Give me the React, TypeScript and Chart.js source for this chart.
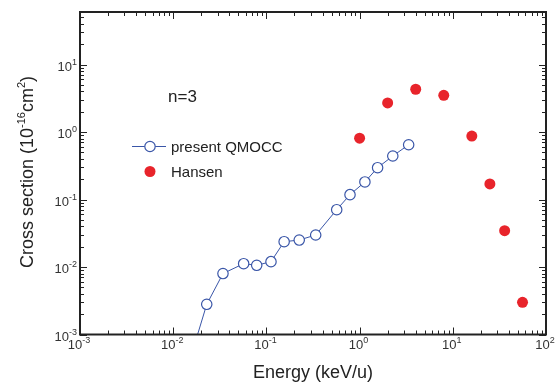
import React, { useEffect, useRef } from 'react';
import { Chart, registerables } from 'chart.js';

Chart.register(...registerables);

// Present QMOCC results (energy keV/u, cross section 1e-16 cm^2)
const qmoccEnergy = [0.0157, 0.0229, 0.0342, 0.057, 0.0787, 0.112, 0.155, 0.225, 0.338, 0.568, 0.789, 1.14, 1.56, 2.27, 3.36];
const qmoccSigma = [0.0005, 0.0028, 0.008, 0.0112, 0.0106, 0.012, 0.0237, 0.0251, 0.0298, 0.0706, 0.118, 0.182, 0.296, 0.441, 0.648];

// Hansen data
const hansenEnergy = [1.0, 2.0, 4.0, 8.0, 16, 25, 36, 56];
const hansenSigma = [0.81, 2.7, 4.3, 3.5, 0.87, 0.17, 0.0345, 0.003];

// Tick label exponents (labels are 10^e)
const xTickExponents = [-3, -2, -1, 0, 1, 2];
const yTickExponents = [-3, -2, -1, 0, 1];

const X_MIN = 1e-3;
const X_MAX = 100;
const Y_MIN = 1e-3;
const Y_MAX = 60;

const FONT = '"Liberation Sans", Arial, sans-serif';
const BLUE = '#3a56a8';
const RED = '#e8242b';
const INK = '#222222';

function drawPow(ctx: CanvasRenderingContext2D, x: number, y: number, exp: number, align: 'center' | 'right') {
  ctx.font = `13px ${FONT}`;
  const base = '10';
  const wb = ctx.measureText(base).width;
  ctx.font = `9px ${FONT}`;
  const sup = String(exp);
  const ws = ctx.measureText(sup).width;
  const total = wb + ws;
  let x0 = align === 'center' ? x - total / 2 : x - total;
  ctx.textAlign = 'left';
  ctx.textBaseline = 'alphabetic';
  ctx.font = `13px ${FONT}`;
  ctx.fillText(base, x0, y);
  ctx.font = `9px ${FONT}`;
  ctx.fillText(sup, x0 + wb, y - 6);
}

const framePlugin = {
  id: 'framePlugin',
  afterDatasetsDraw(chart: any) {
    const { ctx, chartArea } = chart;
    const xs = chart.scales.x;
    const ys = chart.scales.y;
    const { left, right, top, bottom } = chartArea;
    ctx.save();
    ctx.strokeStyle = INK;
    ctx.fillStyle = INK;

    // ticks
    ctx.lineWidth = 1;
    const majorLen = 7;
    const minorLen = 4;
    for (let e = -3; e <= 2; e++) {
      for (let k = 1; k <= 9; k++) {
        const v = k * Math.pow(10, e);
        const len = k === 1 ? majorLen : minorLen;
        if (v >= X_MIN * 0.999 && v <= X_MAX * 1.001) {
          const px = Math.round(xs.getPixelForValue(v)) + 0.5;
          ctx.beginPath();
          ctx.moveTo(px, bottom);
          ctx.lineTo(px, bottom - len);
          ctx.moveTo(px, top);
          ctx.lineTo(px, top + len);
          ctx.stroke();
        }
        if (v >= Y_MIN * 0.999 && v <= Y_MAX * 1.001) {
          const py = Math.round(ys.getPixelForValue(v)) + 0.5;
          ctx.beginPath();
          ctx.moveTo(left, py);
          ctx.lineTo(left + len, py);
          ctx.moveTo(right, py);
          ctx.lineTo(right - len, py);
          ctx.stroke();
        }
      }
    }

    // frame
    ctx.lineWidth = 2;
    ctx.strokeRect(left, top, right - left, bottom - top);

    // tick labels
    ctx.fillStyle = '#333333';
    xTickExponents.forEach((e) => {
      const px = xs.getPixelForValue(Math.pow(10, e));
      drawPow(ctx, px - 1, bottom + 14, e, 'center');
    });
    yTickExponents.forEach((e) => {
      const py = ys.getPixelForValue(Math.pow(10, e));
      drawPow(ctx, left - 3, py + 6, e, 'right');
    });

    // x title
    ctx.fillStyle = INK;
    ctx.font = `18px ${FONT}`;
    ctx.textAlign = 'center';
    ctx.textBaseline = 'alphabetic';
    ctx.fillText('Energy (keV/u)', (left + right) / 2, 378);

    // y title with superscripts
    const parts: Array<[string, boolean]> = [
      ['Cross section (10', false],
      ['-16', true],
      ['cm', false],
      ['2', true],
      [')', false],
    ];
    let total = 0;
    const widths: number[] = [];
    parts.forEach(([t, s]) => {
      ctx.font = s ? `11px ${FONT}` : `18px ${FONT}`;
      const w = ctx.measureText(t).width;
      widths.push(w);
      total += w;
    });
    ctx.save();
    ctx.translate(33, 172);
    ctx.rotate(-Math.PI / 2);
    ctx.textAlign = 'left';
    let cx = -total / 2;
    parts.forEach(([t, s], i) => {
      ctx.font = s ? `11px ${FONT}` : `18px ${FONT}`;
      ctx.fillText(t, cx, s ? -8 : 0);
      cx += widths[i];
    });
    ctx.restore();

    // annotation
    ctx.font = `17px ${FONT}`;
    ctx.textAlign = 'left';
    ctx.fillText('n=3', xs.getPixelForValue(0.0088), ys.getPixelForValue(2.75));

    // legend
    const ds = chart.data.datasets;
    const lx = 150;
    const ly1 = 146.5;
    const ly2 = 171.5;
    ctx.strokeStyle = BLUE;
    ctx.lineWidth = 1;
    ctx.beginPath();
    ctx.moveTo(132, ly1);
    ctx.lineTo(166, ly1);
    ctx.stroke();
    ctx.fillStyle = '#ffffff';
    ctx.lineWidth = 1.2;
    ctx.beginPath();
    ctx.arc(lx, ly1, 5.2, 0, Math.PI * 2);
    ctx.fill();
    ctx.stroke();
    ctx.fillStyle = RED;
    ctx.beginPath();
    ctx.arc(lx, ly2, 5.5, 0, Math.PI * 2);
    ctx.fill();
    ctx.fillStyle = INK;
    ctx.font = `15px ${FONT}`;
    ctx.textBaseline = 'middle';
    ctx.fillText(ds[0].label, 171, ly1 + 1);
    ctx.fillText(ds[1].label, 171, ly2 + 1);
    ctx.restore();
  },
};

export default function App() {
  const ref = useRef<HTMLCanvasElement | null>(null);
  useEffect(() => {
    document.body.style.margin = '0';
    const canvas = ref.current;
    if (!canvas) return;
    const chart = new Chart(canvas, {
      type: 'scatter',
      data: {
        datasets: [
          {
            label: 'present QMOCC',
            data: qmoccEnergy.map((x, i) => ({ x, y: qmoccSigma[i] })),
            showLine: true,
            borderColor: BLUE,
            borderWidth: 1,
            pointBackgroundColor: '#ffffff',
            pointBorderColor: BLUE,
            pointBorderWidth: 1.2,
            pointRadius: (c: any) => (c.dataIndex === 0 ? 0 : 5.2),
            pointHoverRadius: 5.2,
            clip: 0,
            order: 2,
          } as any,
          {
            label: 'Hansen',
            data: hansenEnergy.map((x, i) => ({ x, y: hansenSigma[i] })),
            showLine: false,
            backgroundColor: RED,
            borderColor: RED,
            pointBackgroundColor: RED,
            pointBorderColor: RED,
            pointBorderWidth: 0,
            pointRadius: 5.5,
            order: 1,
          } as any,
        ],
      },
      options: {
        animation: false,
        responsive: false,
        devicePixelRatio: 1,
        layout: { padding: { left: 0, right: 13, top: 12, bottom: 0 } },
        plugins: {
          legend: { display: false },
          tooltip: { enabled: false },
        },
        scales: {
          x: {
            type: 'logarithmic',
            min: X_MIN,
            max: X_MAX,
            grid: { display: false },
            border: { display: false },
            ticks: { display: false },
            afterFit: (s: any) => {
              s.height = 49.5;
            },
          },
          y: {
            type: 'logarithmic',
            min: Y_MIN,
            max: Y_MAX,
            grid: { display: false },
            border: { display: false },
            ticks: { display: false },
            afterFit: (s: any) => {
              s.width = 80;
            },
          },
        },
      } as any,
      plugins: [framePlugin],
    });
    return () => chart.destroy();
  }, []);
  return (
    <div style={{ position: 'absolute', left: 0, top: 0, width: 559, height: 384, background: '#ffffff' }}>
      <canvas ref={ref} width={559} height={384} style={{ width: 559, height: 384, display: 'block' }} />
    </div>
  );
}
